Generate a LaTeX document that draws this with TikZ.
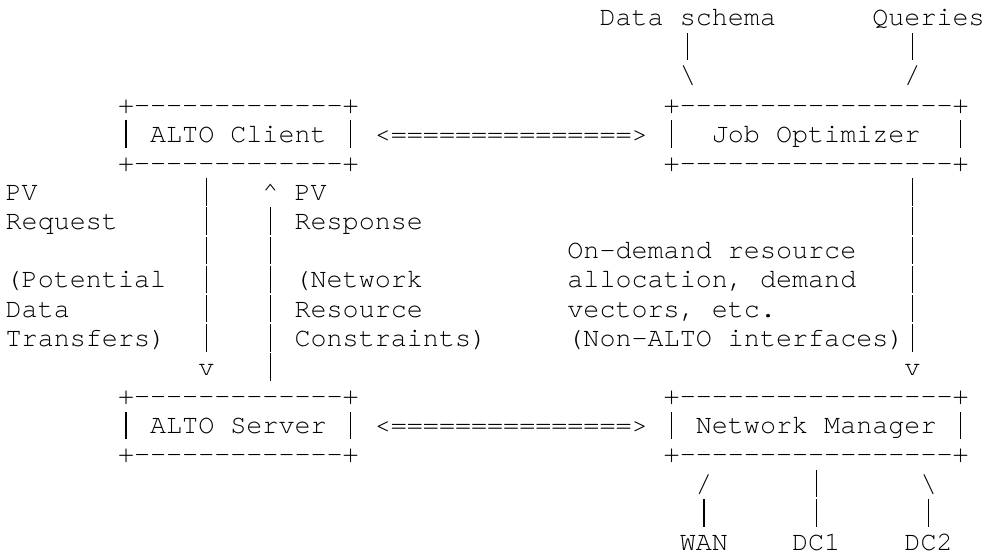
\documentclass[tikz,border=0pt]{standalone}
\usepackage{fontspec}
\setmonofont{TeX Gyre Cursor}
\usepackage{xcolor}

% long thin vertical bar filling one character cell
\newcommand{\asciibar}{\makebox[0.6em]{\rule[-0.2em]{0.65pt}{1.03em}}}

\tikzset{
  ascii/.style={anchor=base west, inner sep=0pt, outer sep=0pt,
    font=\ttfamily\fontsize{13.375pt}{14.575pt}\selectfont}
}

\begin{document}
\begin{tikzpicture}[x=8.025pt, y=-14.575pt]
  % one unit = one character cell (column, row)
  \useasboundingbox (-0.354,0.122) rectangle (60.954,19.23);

  % Inputs of the optimizer
  \node[ascii] (schema) at (37,1) {Data schema};
  \node[ascii] (queries) at (54,1) {Queries};
  \node[ascii] (schema-bar) at (42,2) {\asciibar};
  \node[ascii] (queries-bar) at (56,2) {\asciibar};
  \node[ascii] (schema-in) at (42,3) {\textbackslash};
  \node[ascii] (queries-in) at (56,3) {/};

  % ALTO Client
  \node[ascii] (client-top) at (7,4) {+-------------+};
  \node[ascii] (client) at (7,5) {\asciibar{} ALTO Client \asciibar};
  \node[ascii] (client-bot) at (7,6) {+-------------+};

  % Job Optimizer
  \node[ascii] (optim-top) at (41,4) {+-----------------+};
  \node[ascii] (optim) at (41,5) {\asciibar~~Job Optimizer~~\asciibar};
  \node[ascii] (optim-bot) at (41,6) {+-----------------+};

  % Links between the two sides
  \node[ascii] (upper-link) at (23,5) {<===============>};
  \node[ascii] (lower-link) at (23,15) {<===============>};

  % PV request / response
  \foreach \r in {7,...,12}
    \node[ascii] (req-\r) at (12,\r) {\asciibar};
  \foreach \r in {8,...,13}
    \node[ascii] (resp-\r) at (16,\r) {\asciibar};
  \node[ascii] (req-tip) at (12,13) {v};
  \node[ascii] (resp-tip) at (16,7) {\textasciicircum};

  \node[ascii] (pv1) at (0,7) {PV};
  \node[ascii] (request) at (0,8) {Request};
  \node[ascii] (potential) at (0,10) {(Potential};
  \node[ascii] (data) at (0,11) {Data};
  \node[ascii] (transfers) at (0,12) {Transfers)};

  \node[ascii] (pv2) at (18,7) {PV};
  \node[ascii] (response) at (18,8) {Response};
  \node[ascii] (network) at (18,10) {(Network};
  \node[ascii] (resource) at (18,11) {Resource};
  \node[ascii] (constraints) at (18,12) {Constraints)};

  % Optimizer -> manager
  \foreach \r in {7,...,12}
    \node[ascii] (alloc-\r) at (56,\r) {\asciibar};
  \node[ascii] (alloc-tip) at (56,13) {v};
  \node[ascii] (ondemand) at (35,9) {On-demand resource};
  \node[ascii] (allocation) at (35,10) {allocation, demand};
  \node[ascii] (vectors) at (35,11) {vectors, etc.};
  \node[ascii] (nonalto) at (35,12) {(Non-ALTO interfaces)};

  % ALTO Server
  \node[ascii] (server-top) at (7,14) {+-------------+};
  \node[ascii] (server) at (7,15) {\asciibar{} ALTO Server \asciibar};
  \node[ascii] (server-bot) at (7,16) {+-------------+};

  % Network Manager
  \node[ascii] (manager-top) at (41,14) {+-----------------+};
  \node[ascii] (manager) at (41,15) {\asciibar{} Network Manager \asciibar};
  \node[ascii] (manager-bot) at (41,16) {+-----------------+};

  % Managed networks
  \node[ascii] (wan-in) at (43,17) {/};
  \node[ascii] (dc1-in) at (50,17) {\asciibar};
  \node[ascii] (dc2-in) at (57,17) {\textbackslash};
  \node[ascii] (wan-bar) at (43,18) {\asciibar};
  \node[ascii] (dc1-bar) at (50,18) {\asciibar};
  \node[ascii] (dc2-bar) at (57,18) {\asciibar};
  \node[ascii] (wan) at (42,19) {WAN};
  \node[ascii] (dc1) at (49,19) {DC1};
  \node[ascii] (dc2) at (56,19) {DC2};

\end{tikzpicture}
\end{document}
